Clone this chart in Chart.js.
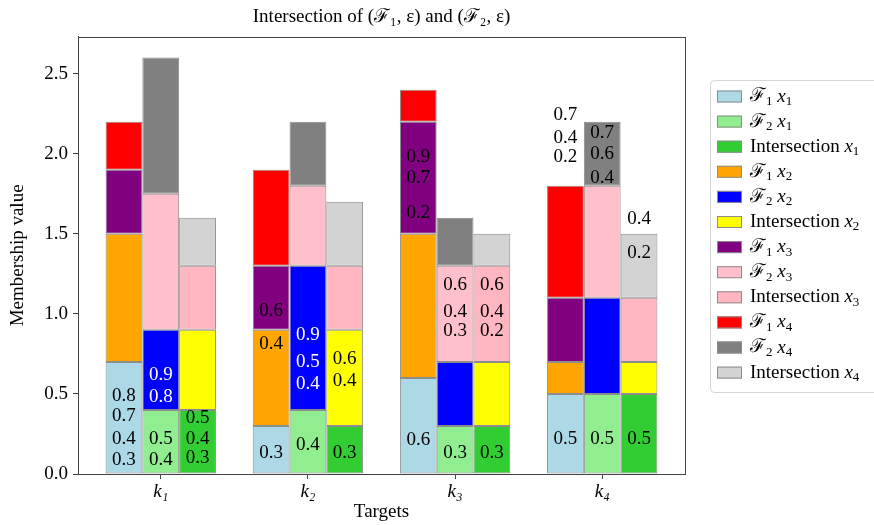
<!DOCTYPE html>
<html>
<head>
<meta charset="utf-8">
<script src="https://cdn.jsdelivr.net/npm/chart.js@4.4.0/dist/chart.umd.min.js"></script>
<style>
  html, body { margin: 0; padding: 0; background: #fff; }
  #wrap { width: 874px; height: 525px; }
</style>
</head>
<body>
<div id="wrap"><canvas id="chart"></canvas></div>
<script>
// targets on the x axis
var targets = ['k₁', 'k₂', 'k₃', 'k₄'];
var yTickStep = 0.5;
var yMax = 2.73;

// membership values per soft set and element (one value per target)
var f1x1 = [0.7, 0.3, 0.6, 0.5];
var f2x1 = [0.4, 0.4, 0.3, 0.5];
var intx1 = [0.4, 0.3, 0.3, 0.5];
var f1x2 = [0.8, 0.6, 0.9, 0.2];
var f2x2 = [0.5, 0.9, 0.4, 0.6];
var intx2 = [0.5, 0.6, 0.4, 0.2];
var f1x3 = [0.4, 0.4, 0.7, 0.4];
var f2x3 = [0.85, 0.5, 0.6, 0.7];
var intx3 = [0.4, 0.4, 0.6, 0.4];
var f1x4 = [0.3, 0.6, 0.2, 0.7];
var f2x4 = [0.85, 0.4, 0.3, 0.4];
var intx4 = [0.3, 0.4, 0.2, 0.4];

// texts written over the bars: [target, bar (0 = F1, 1 = F2, 2 = intersection), height, text, white?]
var cellTexts = [
    [0, 0, 0.49, '0.8'], [0, 0, 0.36, '0.7'], [0, 0, 0.22, '0.4'], [0, 0, 0.09, '0.3'],
    [0, 1, 0.62, '0.9', 1], [0, 1, 0.48, '0.8', 1], [0, 1, 0.22, '0.5'], [0, 1, 0.09, '0.4'],
    [0, 2, 0.35, '0.5'], [0, 2, 0.22, '0.4'], [0, 2, 0.10, '0.3'],
    [1, 0, 1.02, '0.6'], [1, 0, 0.81, '0.4'], [1, 0, 0.13, '0.3'],
    [1, 1, 0.87, '0.9', 1], [1, 1, 0.70, '0.5', 1], [1, 1, 0.56, '0.4', 1], [1, 1, 0.18, '0.4'],
    [1, 2, 0.72, '0.6'], [1, 2, 0.58, '0.4'], [1, 2, 0.13, '0.3'],
    [2, 0, 1.98, '0.9'], [2, 0, 1.85, '0.7'], [2, 0, 1.63, '0.2'], [2, 0, 0.21, '0.6'],
    [2, 1, 1.18, '0.6'], [2, 1, 1.01, '0.4'], [2, 1, 0.89, '0.3'], [2, 1, 0.13, '0.3'],
    [2, 2, 1.18, '0.6'], [2, 2, 1.01, '0.4'], [2, 2, 0.89, '0.2'], [2, 2, 0.13, '0.3'],
    [3, 0, 2.24, '0.7'], [3, 0, 2.10, '0.4'], [3, 0, 1.98, '0.2'], [3, 0, 0.22, '0.5'],
    [3, 1, 2.13, '0.7'], [3, 1, 2.00, '0.6'], [3, 1, 1.85, '0.4'], [3, 1, 0.22, '0.5'],
    [3, 2, 1.59, '0.4'], [3, 2, 1.38, '0.2'], [3, 2, 0.22, '0.5']
];

var serif = "'Liberation Serif', 'DejaVu Serif', serif";
var subDigits = ['₁', '₂', '₃', '₄'];

function makeSet(values, set, elem, colour) {
    var name = (set === 'Int' ? 'Intersection' : (set === 'F1' ? 'ℱ₁' : 'ℱ₂')) + ' x' + subDigits[elem];
    return {
        label: name,
        setKey: set,
        elem: elem,
        stack: set,
        data: values.map(function (v, i) { return { x: i, y: v }; }),
        backgroundColor: colour,
        borderColor: '#8c8c8c',
        borderWidth: 1,
        borderSkipped: false
    };
}

var datasets = [
    makeSet(f1x1, 'F1', 0, '#add8e6'),
    makeSet(f2x1, 'F2', 0, '#90ee90'),
    makeSet(intx1, 'Int', 0, '#32cd32'),
    makeSet(f1x2, 'F1', 1, '#ffa500'),
    makeSet(f2x2, 'F2', 1, '#0000ff'),
    makeSet(intx2, 'Int', 1, '#ffff00'),
    makeSet(f1x3, 'F1', 2, '#800080'),
    makeSet(f2x3, 'F2', 2, '#ffc0cb'),
    makeSet(intx3, 'Int', 2, '#ffb6c1'),
    makeSet(f1x4, 'F1', 3, '#ff0000'),
    makeSet(f2x4, 'F2', 3, '#808080'),
    makeSet(intx4, 'Int', 3, '#d3d3d3')
];

// frame round the plot, like matplotlib spines
var framePlugin = {
    id: 'frame',
    afterDraw: function (chart) {
        var a = chart.chartArea, ctx = chart.ctx;
        ctx.save();
        ctx.strokeStyle = '#444';
        ctx.lineWidth = 1;
        ctx.strokeRect(Math.round(a.left) + 0.5, Math.round(a.top) + 0.5,
            Math.round(a.right - a.left), Math.round(a.bottom - a.top));
        ctx.restore();
    }
};

// numbers written inside / above the bars
var textPlugin = {
    id: 'cellTexts',
    afterDatasetsDraw: function (chart) {
        var ctx = chart.ctx, y = chart.scales.y;
        ctx.save();
        ctx.font = '19px ' + serif;
        ctx.textAlign = 'center';
        ctx.textBaseline = 'middle';
        cellTexts.forEach(function (t) {
            var bar = chart.getDatasetMeta(t[1]).data[t[0]];
            ctx.fillStyle = t[4] ? '#ffffff' : '#000000';
            ctx.fillText(t[3], bar.x, y.getPixelForValue(t[2]));
        });
        ctx.restore();
    }
};

function drawPieces(ctx, pieces, x, y) {
    pieces.forEach(function (p) {
        ctx.font = (p.it ? 'italic ' : '') + (p.sub ? '13px ' : '19px ') + serif;
        ctx.fillText(p.t, x, y + (p.sub ? 5 : 0));
        x += ctx.measureText(p.t).width;
    });
}

// legend drawn outside the plot, on the right
var legendPlugin = {
    id: 'sideLegend',
    afterDraw: function (chart) {
        var ctx = chart.ctx, a = chart.chartArea;
        var left = a.right + 25, top = 80, rowH = 25.1;
        ctx.save();
        ctx.strokeStyle = '#d6d6d6';
        ctx.lineWidth = 1;
        ctx.beginPath();
        ctx.roundRect(left + 0.5, top + 0.5, 200, 312, 4);
        ctx.stroke();
        ctx.textBaseline = 'middle';
        chart.data.datasets.forEach(function (ds, i) {
            var cy = top + 16.5 + i * rowH;
            ctx.fillStyle = ds.backgroundColor;
            ctx.fillRect(left + 7, cy - 6, 25, 12);
            ctx.strokeStyle = '#8c8c8c';
            ctx.strokeRect(left + 7.5, cy - 5.5, 24, 11);
            ctx.fillStyle = '#000';
            var pieces = ds.setKey === 'Int'
                ? [{ t: 'Intersection ' }]
                : [{ t: 'ℱ' }, { t: ds.setKey.charAt(1), sub: true }, { t: ' ' }];
            pieces.push({ t: 'x', it: true }, { t: String(ds.elem + 1), sub: true });
            drawPieces(ctx, pieces, left + 40, cy);
        });
        ctx.restore();
    }
};

var ctx = document.getElementById('chart').getContext('2d');
var chart = new Chart(ctx, {
    type: 'bar',
    data: { datasets: datasets },
    options: {
        responsive: true,
        maintainAspectRatio: false,
        animation: false,
        categoryPercentage: 0.75,
        barPercentage: 1,
        layout: { padding: { left: 0, right: 189, top: 0, bottom: 0 } },
        plugins: {
            legend: { display: false },
            tooltip: { enabled: false },
            title: {
                display: true,
                fullSize: false,
                text: 'Intersection of (ℱ₁, ε) and (ℱ₂, ε)',
                color: '#000',
                font: { family: serif, size: 19, weight: 'normal' },
                padding: { top: 6, bottom: 8 }
            }
        },
        scales: {
            x: {
                type: 'linear',
                min: -0.5625,
                max: 3.5625,
                offset: false,
                grid: { drawOnChartArea: false, offset: false, tickLength: 5, color: '#444' },
                border: { color: '#444' },
                ticks: {
                    stepSize: 1,
                    includeBounds: false,
                    padding: 2,
                    color: '#000',
                    font: { family: serif, size: 19, style: 'italic' },
                    callback: function (v) { return targets[v]; }
                },
                title: {
                    display: true,
                    text: 'Targets',
                    color: '#000',
                    font: { family: serif, size: 19 },
                    padding: { top: 0, bottom: 2 }
                },
                afterFit: function (s) { s.height = 51; }
            },
            y: {
                stacked: true,
                min: 0,
                max: yMax,
                grid: { drawOnChartArea: false, tickLength: 5, color: '#444' },
                border: { color: '#444' },
                ticks: {
                    stepSize: yTickStep,
                    includeBounds: false,
                    padding: 5,
                    color: '#000',
                    font: { family: serif, size: 19 },
                    callback: function (v) { return v.toFixed(1); }
                },
                title: {
                    display: true,
                    text: 'Membership value',
                    color: '#000',
                    font: { family: serif, size: 19 },
                    padding: { top: 7, bottom: 0 }
                },
                afterFit: function (s) { s.width = 78; }
            }
        }
    },
    plugins: [textPlugin, framePlugin, legendPlugin]
});
</script>
</body>
</html>
